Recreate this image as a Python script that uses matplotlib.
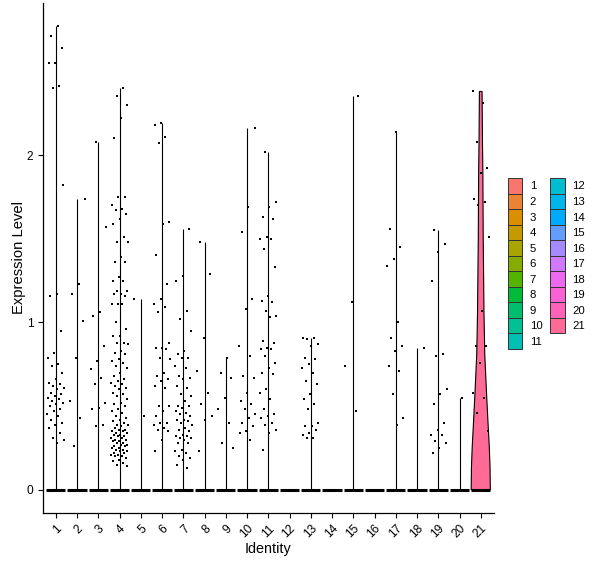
import numpy as np
import matplotlib
matplotlib.use("Agg")
import matplotlib.pyplot as plt
from matplotlib.patches import Patch

plt.rcParams['font.family'] = ['Liberation Sans', 'DejaVu Sans']

# identities shown on the x axis
idents = [str(i) for i in range(1, 22)]

# non-zero expression values per identity (the rest of the cells sit at 0)
c1 = [2.77, 2.71, 2.64, 2.55, 2.55, 2.41, 2.40, 1.82, 1.17, 1.16, 0.95, 0.82, 0.79, 0.75, 0.74,
      0.70, 0.66, 0.64, 0.63, 0.62, 0.61, 0.60, 0.58, 0.57, 0.56, 0.55, 0.54, 0.53, 0.52, 0.51,
      0.50, 0.48, 0.47, 0.45, 0.44, 0.42, 0.40, 0.39, 0.37, 0.34, 0.31, 0.30, 0.28]
c2 = [1.74, 1.23, 1.17, 1.01, 0.79, 0.53, 0.43, 0.26]
c3 = [2.08, 1.57, 1.06, 1.04, 0.86, 0.77, 0.72, 0.67, 0.63, 0.52, 0.49, 0.48, 0.39, 0.38]
c4 = [2.40, 2.35, 2.30, 2.22, 2.10, 1.75, 1.75, 1.70, 1.68, 1.67, 1.65, 1.62, 1.59, 1.51, 1.48,
      1.48, 1.39, 1.36, 1.36, 1.27, 1.25, 1.25, 1.19, 1.19, 1.17, 1.17, 1.16, 1.11, 1.11, 1.11,
      1.00, 0.96, 0.92, 0.92, 0.88, 0.88, 0.87, 0.83, 0.82, 0.81, 0.78, 0.77, 0.76, 0.74, 0.73,
      0.70, 0.68, 0.66, 0.65, 0.64, 0.63, 0.62, 0.61, 0.60, 0.58, 0.57, 0.56, 0.54, 0.52, 0.51,
      0.50, 0.48, 0.47, 0.46, 0.44, 0.43, 0.42, 0.41, 0.40, 0.39, 0.39, 0.38, 0.37, 0.36, 0.36,
      0.35, 0.35, 0.34, 0.34, 0.33, 0.33, 0.32, 0.32, 0.31, 0.31, 0.30, 0.30, 0.29, 0.29, 0.28,
      0.28, 0.27, 0.27, 0.26, 0.26, 0.25, 0.25, 0.24, 0.24, 0.23, 0.23, 0.22, 0.22, 0.21, 0.21,
      0.20, 0.20, 0.19, 0.18, 0.17, 0.16, 0.15, 0.14]
c5 = [1.14, 0.44]
c6 = [2.19, 2.18, 2.11, 2.07, 1.60, 1.59, 1.40, 1.23, 1.14, 1.11, 1.09, 1.06, 0.88, 0.85, 0.85,
      0.84, 0.79, 0.78, 0.70, 0.68, 0.66, 0.65, 0.62, 0.61, 0.50, 0.50, 0.47, 0.44, 0.40, 0.40,
      0.39, 0.37, 0.36, 0.35, 0.30, 0.23]
c7 = [1.56, 1.28, 1.25, 1.07, 1.02, 0.95, 0.83, 0.81, 0.79, 0.79, 0.74, 0.73, 0.68, 0.67, 0.66,
      0.62, 0.61, 0.57, 0.56, 0.53, 0.50, 0.50, 0.49, 0.47, 0.46, 0.45, 0.44, 0.42, 0.42, 0.41,
      0.40, 0.39, 0.37, 0.36, 0.35, 0.33, 0.32, 0.32, 0.31, 0.31, 0.30, 0.28, 0.28, 0.24, 0.23,
      0.22, 0.20, 0.19, 0.18, 0.15, 0.13]
c8 = [1.48, 1.29, 0.91, 0.71, 0.58, 0.51, 0.44, 0.42, 0.23]
c9 = [0.79, 0.70, 0.67, 0.55, 0.48, 0.40, 0.28, 0.25]
c10 = [2.16, 1.69, 1.54, 1.14, 1.08, 0.86, 0.80, 0.68, 0.67, 0.58, 0.53, 0.51, 0.48, 0.45, 0.43,
       0.40, 0.38, 0.35, 0.34, 0.30]
c11 = [2.02, 1.72, 1.69, 1.63, 1.62, 1.51, 1.50, 1.50, 1.44, 1.33, 1.16, 1.13, 1.12, 1.07, 1.04,
       1.03, 0.89, 0.88, 0.85, 0.84, 0.84, 0.80, 0.76, 0.73, 0.70, 0.69, 0.60, 0.58, 0.54, 0.48,
       0.45, 0.44, 0.43, 0.40, 0.39, 0.36, 0.34, 0.24]
c12 = []
c13 = [0.91, 0.91, 0.90, 0.87, 0.86, 0.79, 0.78, 0.75, 0.73, 0.70, 0.65, 0.63, 0.57, 0.54, 0.51,
       0.48, 0.40, 0.38, 0.38, 0.36, 0.34, 0.33, 0.31, 0.31]
c14 = []
c15 = [2.35, 1.12, 0.74, 0.47]
c16 = []
c17 = [2.14, 1.56, 1.45, 1.38, 1.34, 1.00, 0.91, 0.86, 0.83, 0.74, 0.71, 0.57, 0.43, 0.39]
c18 = [0.85]
c19 = [1.55, 1.47, 1.42, 1.25, 0.81, 0.80, 0.60, 0.57, 0.51, 0.40, 0.36, 0.33, 0.33, 0.29, 0.28,
       0.25, 0.22]
c20 = [0.55]
c21 = [2.38, 2.31, 2.08, 1.92, 1.89, 1.74, 1.72, 1.70, 1.51, 1.07, 0.86, 0.86, 0.76, 0.58, 0.55,
       0.46, 0.35]

clusters = [c1, c2, c3, c4, c5, c6, c7, c8, c9, c10, c11, c12, c13, c14, c15, c16, c17, c18,
            c19, c20, c21]

# violin outline of identity 21 (expression level, relative half width)
v21_level = [0.0, 0.14, 0.26, 0.40, 0.56, 0.71, 0.81, 1.05, 1.49, 1.90, 2.08, 2.38]
v21_width = [1.0, 0.97, 0.89, 0.76, 0.62, 0.50, 0.42, 0.34, 0.26, 0.22, 0.18, 0.14]


def hue_pal(n, c=100, l=65):
    # ggplot2 default discrete palette (polar CIE-Luv -> sRGB)
    hues = np.linspace(15, 375, n + 1)[:n]
    out = []
    for h in hues:
        hr = np.deg2rad(h)
        U, V = c * np.cos(hr), c * np.sin(hr)
        Y = ((l + 16) / 116) ** 3
        u = U / (13 * l) + 0.1978398
        v = V / (13 * l) + 0.4683363
        X = 9.0 * Y * u / (4 * v)
        Z = -X / 3 - 5 * Y + 3 * Y / v
        rgb = np.array([3.240479 * X - 1.537150 * Y - 0.498535 * Z,
                        -0.969256 * X + 1.875992 * Y + 0.041556 * Z,
                        0.055648 * X - 0.204043 * Y + 1.057311 * Z])
        rgb = np.where(rgb > 0.00304, 1.055 * np.abs(rgb) ** (1 / 2.4) - 0.055, 12.92 * rgb)
        out.append(tuple(np.clip(rgb, 0, 1)))
    return out


cols = hue_pal(len(idents))

fig = plt.figure(figsize=(6.0, 5.68), dpi=100)
ax = fig.add_axes([43 / 600, 55 / 568, 450.5 / 600, 510 / 568])

vw = 0.45
for k, vals in enumerate(clusters):
    xc = k + 1
    vals = np.array(vals, dtype=float)
    if k == 20:
        lv = np.array(v21_level)
        hw = np.array(v21_width) * vw
        ax.fill(np.concatenate([xc - hw, (xc + hw)[::-1]]), np.concatenate([lv, lv[::-1]]),
                facecolor=cols[k], edgecolor='black', linewidth=0.8, zorder=2)
    elif len(vals):
        ax.vlines(xc, 0, vals.max(), color='black', linewidth=0.8, zorder=2)
    # cells at zero
    ax.hlines(0, xc - vw, xc + vw, color='black', linewidth=2.2, zorder=3)
    if len(vals):
        idx = np.arange(len(vals))
        jit = 0.4 * (2 * (((idx + 1) * 0.618034 + k * 0.37) % 1.0) - 1)
        ax.scatter(xc + jit, vals, s=2.4, marker='s', color='black', linewidths=0, zorder=4)

ymax = max(max(v) for v in clusters if len(v))
ax.set_ylim(-0.05 * ymax, ymax * 1.05)
ax.set_xlim(0.4, len(idents) + 0.6)
ax.set_xticks(range(1, len(idents) + 1))
ax.set_xticklabels(idents, rotation=45, ha='right', va='top', rotation_mode='anchor')
ax.set_yticks([0, 1, 2])
ax.tick_params(labelsize=8.6, length=3.5, width=0.8, colors='black')
for s in ['top', 'right']:
    ax.spines[s].set_visible(False)
for s in ['left', 'bottom']:
    ax.spines[s].set_linewidth(0.9)
ax.set_xlabel('Identity', fontsize=10.4, labelpad=1)
ax.set_ylabel('Expression Level', fontsize=10.6, labelpad=0.5)

handles = [Patch(facecolor=cols[i], edgecolor='#333333', linewidth=0.7, label=idents[i])
           for i in range(len(idents))]
fig.legend(handles=handles, loc='upper left', bbox_to_anchor=(508 / 600, 1 - 178 / 568),
           ncol=2, frameon=False, fontsize=8.2, borderpad=0, borderaxespad=0,
           handlelength=1.25, handleheight=1.72, labelspacing=0, handletextpad=0.65,
           columnspacing=0.7)

fig.savefig('out.png', dpi=100)
